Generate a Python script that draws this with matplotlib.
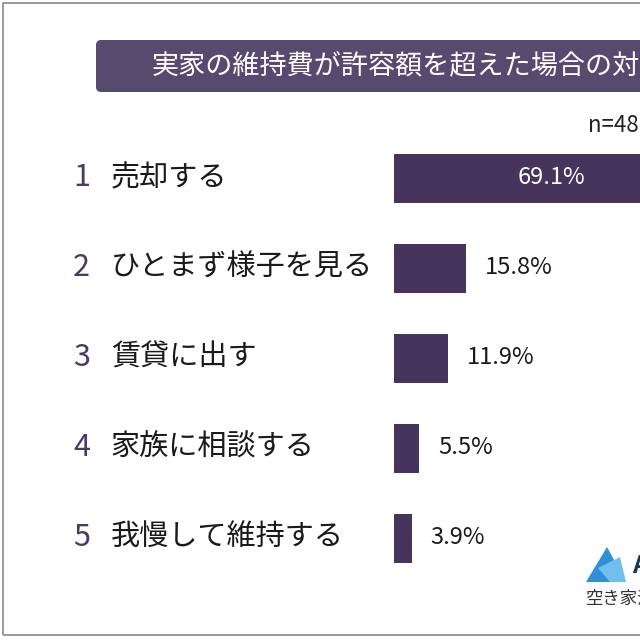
import matplotlib
matplotlib.use("Agg")
import matplotlib.pyplot as plt
from matplotlib.patches import FancyBboxPatch, Polygon, Rectangle
import matplotlib.transforms as mtransforms

plt.rcParams['font.family'] = ['Noto Sans CJK JP', 'DejaVu Sans']

# ---- data ----
title = "実家の維持費が許容額を超えた場合の対応"
ranks = ["1", "2", "3", "4", "5"]
categories = ["売却する", "ひとまず様子を見る", "賃貸に出す", "家族に相談する", "我慢して維持する"]
values = [69.1, 15.8, 11.9, 5.5, 3.9]
value_labels = ["69.1%", "15.8%", "11.9%", "5.5%", "3.9%"]
sample_note = "n=48"
logo_text = "空き家活用"

W = H = 640
fig = plt.figure(figsize=(6.4, 6.4), dpi=100)
fig.patch.set_facecolor("white")

bar_color = "#46345c"
title_color = "#564a6e"
num_color = "#4a3a66"

# frame border
fig.patches.append(Rectangle((3 / W, 5 / H), 700 / W, 632 / H, transform=fig.transFigure,
                             fill=False, edgecolor="#8a8a8a", linewidth=1.2))

# title box
fig.patches.append(FancyBboxPatch((96 / W, (640 - 92) / H), 600 / W, 52 / H,
                                  boxstyle="round,pad=0,rounding_size=0.008",
                                  transform=fig.transFigure, facecolor=title_color,
                                  edgecolor="none"))
fig.text(152 / W, (640 - 66) / H, title, color="white", fontsize=19.5,
         ha="left", va="center")

fig.text(588 / W, (640 - 125) / H, sample_note, color="#222222", fontsize=16,
         ha="left", va="center")

# bar axes: x=0 at pixel 394, 4.56 px per %
x0 = 394
ppp = 4.56
ax = fig.add_axes([x0 / W, 0, (W - x0) / W, 1])
ax.set_xlim(0, (W - x0) / ppp)
ax.set_ylim((640 - 178) / 90, -178 / 90)
ax.axis("off")
ypos = list(range(len(values)))
ax.barh(ypos, values, height=49 / 90, color=bar_color, clip_on=False)

for i, (v, lab) in enumerate(zip(values, value_labels)):
    if v > 30:
        ax.text(v / 2, i, lab, color="white", fontsize=17, ha="center", va="center")
    else:
        ax.text(v + 19 / ppp, i, lab, color="#1a1a1a", fontsize=17, ha="left", va="center")

trans = mtransforms.blended_transform_factory(fig.transFigure, ax.transData)
for i, (r, c) in enumerate(zip(ranks, categories)):
    ax.text(73 / W, i, r, transform=trans, color=num_color, fontsize=22,
            ha="left", va="center", clip_on=False)
    ax.text(111 / W, i, c, transform=trans, color="#1a1a1a", fontsize=21,
            ha="left", va="center", clip_on=False)

# logo
def P(x, y):
    return (x / W, (640 - y) / H)

fig.patches.append(Polygon([P(607, 547), P(586, 582), P(626, 582)], closed=True,
                           transform=fig.transFigure, facecolor="#2f8fd8", edgecolor="none"))
fig.patches.append(Polygon([P(598, 568), P(620, 557), P(626, 582), P(610, 582)], closed=True,
                           transform=fig.transFigure, facecolor="#6fc0ee", edgecolor="none"))
fig.text(632 / W, (640 - 566) / H, "A", color="#1f3556", fontsize=18, fontweight="bold",
         ha="left", va="center")
fig.text(586 / W, (640 - 599) / H, logo_text, color="#333333", fontsize=12.5,
         ha="left", va="center")

fig.savefig("out.png", dpi=100)
